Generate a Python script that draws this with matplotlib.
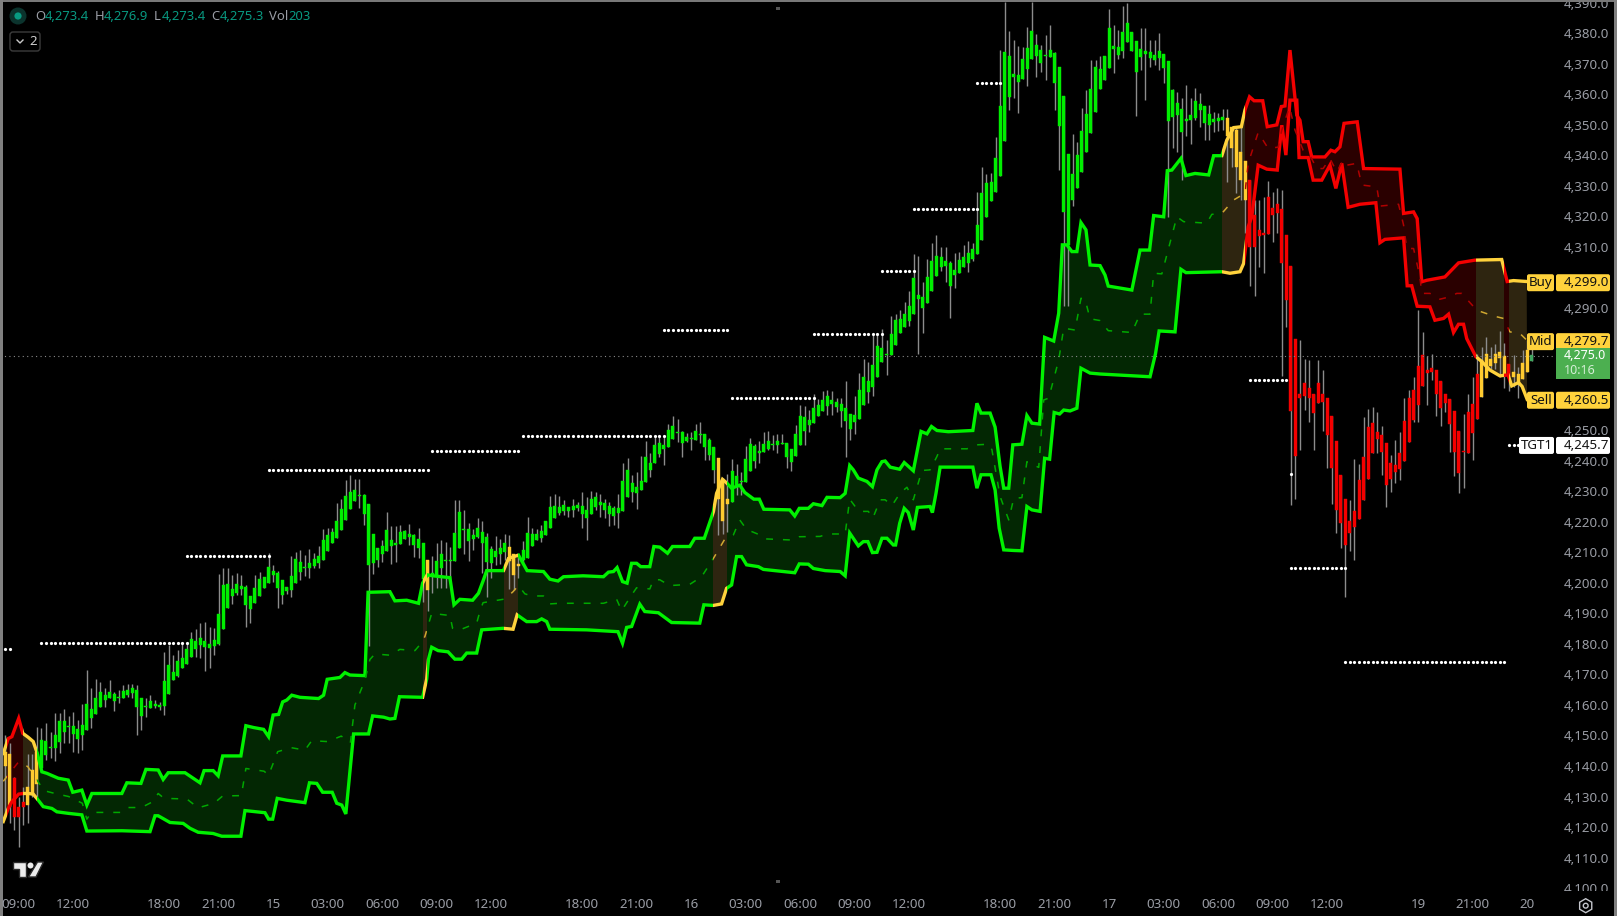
import numpy as np
import matplotlib
matplotlib.use('Agg')
import matplotlib.pyplot as plt
from matplotlib.patches import Rectangle, FancyBboxPatch, Circle, Polygon, RegularPolygon
from matplotlib.transforms import Affine2D

plt.rcParams['font.family'] = ['Noto Sans', 'DejaVu Sans']

BASE = 4000
first_bar = -3

# candles, one value per 15 minute bar, price minus BASE
bar_high = [150.2,147.4,136.5,130,133.2,144,144,152.9,152.3,154.2,
151.2,157.3,157.5,158.6,156.4,157.8,155.1,160.3,171.4,165.4,
168.5,167.6,165.4,168.2,164.4,164.9,166.5,166.9,166.8,166.5,
162.3,162.2,163.3,161.6,161,177.5,179.6,176.4,178,180.2,
180.7,184,184.8,187,187.2,185.6,185.1,202.8,205,204.7,
202.6,203.3,202.6,199.3,195.7,202.6,203.7,202,209.7,205.8,
203.9,200.9,198.7,208.8,210.2,210.8,209.1,211.1,209.7,211.9,
217.7,217.9,217.9,226,227.4,233.7,235.3,234,234,229.1,
225.8,216,211.4,214,223.2,218.6,218.6,219,217.3,219.3,
216,218,213,207.5,208.8,213,214,213.4,211.8,227.1,
227.1,223.9,219.6,217.7,221.3,220.3,216.3,212.1,215.4,214.4,
216,215.7,209.5,208.8,213.7,221.6,218,217.7,219,220.3,
228.5,229.1,228.5,227.2,225,227.5,226.6,229.9,228.2,230.1,
229.7,229.1,227.5,226.5,225.2,229.1,239.2,240.9,235.3,236.3,
241.6,246.5,242.4,247.9,248.4,248.4,252,254.7,253.7,249.7,
249,249.4,252,252.7,248.8,247.5,244.6,240.9,234.4,235.7,
240.5,238.9,236.3,244.8,247.5,245.5,246.5,249.4,249.7,248.4,
248.8,248.8,245.8,243.9,251.7,258.3,257.9,256.6,261.8,260.2,
262.9,263.3,262.9,260.4,260.4,266,255.3,261.2,268.8,273.2,
272.3,281.1,281.7,283.1,279.5,287.4,288.2,289.3,291.9,295.5,
307.7,307,298.5,306,311.3,313.9,310,310,305.4,308,
308.3,310.7,311.9,311.3,328,336.3,333.9,334.1,346.1,374.5,
390.4,380.7,377.8,375.8,375.6,381.9,390.4,379.8,376.2,379.4,
382.7,374,369,359.5,340.5,346.9,344.5,355.4,361.4,371.2,
371.2,372.6,372.6,388,382.7,381.1,388.9,389.9,380.4,377.5,
381.6,381.6,377.8,377.8,380,373.2,370.8,361.6,360.9,358.7,
363.1,358.7,362,360.3,356.2,356.5,354.3,353.8,355.1,355.1,
349.4,349.4,349.4,338.2,331.9,325.4,325.4,326.5,331.6,328.1,
329.2,328.6,313.9,303.7,280,279.5,273.2,273,262,273,
269.7,260.7,254.6,246.4,235.3,227.6,227.1,240.4,238.9,254.4,
257.1,257.7,256,251.3,245.7,242,246.7,249.5,260.4,263.3,
267.5,289.3,282.2,274.3,275.1,269.7,266.1,261.8,260.2,256.2,
249.7,255.3,261.8,267.5,275.1,277.3,280.4,277.3,278.2,282.4,
278.4,271.6,274.6,270.8,276.3,279.5,276.5]

bar_top = [144.7,144,136,126.7,128.3,133,138.7,144.5,148.5,148.3,
146.3,150.2,154.7,154.7,153.1,153.1,152.1,153.4,160.3,158.7,
162.4,164.2,163.3,164.2,163.6,162.5,164.5,164.9,165.6,164.9,
162.3,159.7,161.2,160.3,159.9,167.8,173.1,170.8,174.4,175.3,
178.3,181.6,181,181.8,180.8,180,181.3,189.8,199.3,199.6,
198,199.6,199.1,198.6,195.7,198.3,201.3,202,205.2,203.9,
203.2,200.9,198.6,202.3,207.8,206.8,205.2,206.5,207.8,208.8,
214,215.7,216.7,220.3,224.2,228.5,229.8,230.4,228.8,228.8,
225.8,216,211.4,212.1,217.3,214,213,216.7,217,216,
215.7,214.4,213,207.5,203.1,207.2,209.5,207.5,207.5,216.3,
223.2,217.7,217.7,215.7,218,216.7,215,211.1,210.4,211.4,
213,211.8,209.5,206.2,210.8,216.3,216,216,217,220.3,
224.9,225.2,224.9,225.4,225,225.2,225.4,225.2,223.9,227.5,
228.1,226.5,226.2,225.2,224.5,224.5,233.4,237,232.7,231.4,
233.4,241.2,239.2,245.2,245.8,245.2,250.1,251.4,249.4,249.4,
247.8,247.5,249.7,248.8,248.8,246.8,244.5,240.9,233.7,227.5,
236.6,235,233.4,240.6,245.5,244.8,243.2,245.5,246.5,245.5,
246.5,245.8,245.8,243.9,248.8,254.7,254.3,253.3,257.2,258.2,
259.9,261.2,259.9,259.2,258.5,257.4,255.3,254.9,263.1,267.4,
266.1,271.3,277.5,276.9,274.9,281.5,286,286.4,288,290.6,
299.8,294.2,293.6,300.1,305.4,307,306.7,305.4,304.7,302.4,
305.7,306.7,308,309.3,317.2,327.6,330.9,331.4,339,356.2,
374,372.6,366.7,366.3,371.6,375.3,380.7,376.2,374.5,372.9,
374.5,373.4,369,359.5,340.5,333.9,340.1,348,353.6,361.8,
369,368.3,372.6,381.7,375.8,375.5,380.4,383.4,380.4,377.5,
374.9,374.2,373.9,372.9,374.2,373.2,370.8,361.4,357.2,355.2,
351.9,353.2,357.8,357,356.2,353.6,351.9,352.2,352.6,352.2,
349.4,348.3,341.1,338.2,331.9,320.5,315.6,314.5,326.3,322.8,
324.1,322.6,313.9,303.7,280,262,265.6,263.7,262,265.3,
262,260.7,254.6,246.4,235.3,227.6,220.2,223.5,233.6,241.1,
250.9,252.2,249.5,248.4,245.7,239.1,238.6,242.4,253,260.4,
263.3,271,274.6,269.7,270.3,269.7,266.1,261.8,260.2,256.2,
249.7,243.1,255.9,258.5,268.4,272.9,275.1,273.2,274.8,275.5,
274.4,271.6,269.1,268.4,271.9,276.3,274.6]

bar_bottom = [140,126.7,123.2,123.2,126.5,127.2,130.5,134.1,139.5,143.6,
146,146,148,151.3,152.9,150.5,148.8,150.2,151.8,155.6,
157,159.4,161.6,162.4,161.2,162.3,162.3,163.2,163.9,159.4,
156.5,159.4,159.1,159.7,159.4,159.8,163.6,168.2,169.5,172,
173.4,175.8,178.2,179.6,178.9,178.7,179.3,180,184.9,191.8,
195.7,196.7,197.9,192.7,191.4,193.4,195.7,198.3,199.9,202.6,
198.3,196,197.2,197.7,200,203.6,204.9,204.9,205.5,206.5,
207.5,210.4,213,214.7,217.3,220.6,224.2,226.8,228.6,222.6,
205.9,206.5,207.5,209.5,210.4,212.1,212.4,212.7,214.4,215,
212.4,211.4,201.3,197.7,202.6,202.6,204.9,207.2,207.2,207.2,
211.4,217.4,213.7,214.4,215,213,206.8,206.5,208.5,209.5,
210.1,207.2,202.6,205.5,207.5,208.2,212.1,214,214.7,215.7,
218,221.3,222.9,223.5,223.5,223.9,224.5,222.6,221.3,222.6,
224.9,225.5,223.9,222.6,221.9,222.9,223.5,228.1,229.8,229.5,
230.4,233,237,239.2,242.2,243.9,244.5,247.1,249.1,245.8,
246.5,247.1,246.8,248.4,244.5,241.9,237,227.5,220.4,225.8,
226.5,232.1,233.1,233,236.6,239.9,242.5,242.9,243.8,245.2,
245.2,245.5,241.2,239.6,241.6,245.2,249.7,251.7,252.4,254.6,
256.4,257.9,258.5,257.6,256.2,253,250.4,252.6,253.6,258.2,
262.5,264.1,267.4,272.3,274.6,274.6,277.9,281.8,283.8,285.7,
288,292.9,290,291.6,295.6,300.5,303.4,303.7,297.2,300.8,
301.4,303.4,304.7,306,307.7,312.2,319.8,325.1,328.1,333.3,
344.7,359.2,365.6,363.9,365,368.3,371.6,372.6,370.3,372.7,
372.2,363.8,349.6,321.6,310.7,325.4,329.4,334.7,341.2,347.4,
354.3,361.6,364.7,368.7,374.9,372.9,374.2,377.1,374.2,367.4,
372.3,373.2,371.9,371.2,371.9,368.6,351.4,352.7,353.2,347.6,
351.4,351.6,352.2,354.9,350.7,350,351,351.4,351.6,346.4,
342.4,336.3,331.9,325.4,309.9,309.9,313.6,314,314.3,320.4,
321,304.8,292.8,256.4,241.6,260.7,261.2,260.7,255.5,258.8,
259.3,248.3,237.7,224,219.7,212.4,216.4,218.4,220.9,227.1,
234,242.6,247,242.9,232,234,236.4,237.2,239.9,246.2,
253.3,258.2,264.5,268.8,269.1,262,257.3,258.8,252,242.9,
236.1,242.9,242.6,249.1,253.6,260.9,267.2,271,272.1,273.5,
268,267.3,267.3,265.1,266.7,269.2,272.5]

bar_low = [124.5,121.2,119,113.6,120.7,121.2,130,130,138.7,142,
142.5,141.8,144.2,147.4,147.4,144.7,144.2,145.2,151.8,152.3,
157,159.4,159.2,162.4,158,160.5,162.3,162.7,162.2,150.2,
151.8,156.2,158.9,158.9,158.3,156.7,163.6,168.2,169.3,172,
173.4,175.8,175.8,175.3,171.2,172,176.4,179.6,184.9,191.8,
193,196,196,185.4,186.7,193.4,195.7,198.3,199.9,200.4,
191.9,193,196.3,195.2,200,201,202.3,201.5,204.8,204.8,
207.5,210.4,213,214.7,217.3,220.6,224.2,226.8,224.5,219,
179.3,202.9,205.3,206.8,210.4,206.2,206.8,212.7,214.4,212.4,
208.5,208.2,193.7,190.8,196.7,198.3,198.3,198.3,201,207.2,
211.4,209.5,207.2,210.8,214.7,203.1,195.4,201.6,205.9,206.2,
207.5,198,197.7,201.6,206.4,208.2,212.1,214,213.5,215.7,
218,221.3,222.2,222.2,221.7,221.7,223.5,218,214,222.6,
223.9,221.6,221.3,218.6,219,218,223.5,228.1,226.6,224.2,
230.4,233,234.8,239.2,241.3,238.6,244.5,247.1,246.1,241.2,
246.1,243.5,246.8,245.7,240.2,240.2,232.6,215.7,216,216.7,
226.5,228.8,228.8,233,236.6,237.5,239.3,242.9,243.5,243.5,
242.4,245.5,237.6,236.6,241.6,245.2,245.1,249.5,252.4,254.6,
256.4,255,255,256,251.1,241.3,246.7,248.7,253.6,258.2,
258.9,261.2,267.4,272.3,268,274.6,277.9,281.8,283.8,284.1,
288,274.9,281.8,291.6,295.6,300.5,302.1,298.5,286.7,296.5,
301.4,303.4,301.8,305.4,307.7,312.2,319.8,325.1,328.1,333.3,
344.7,354.9,358.7,354,365,362.7,371.6,365.8,367.4,364.7,
372.2,354.9,335.2,290.7,290.7,323.4,329.4,334.7,341.2,347.4,
354.3,361.6,364.7,368.7,367.1,371.5,371.8,377.1,374.2,352.9,
368,358.1,369,369.6,368,363.6,319.9,342.3,341.2,331.9,
346.2,343.6,351.6,349.4,345,345,347.8,348,348.3,331.4,
336.3,327.8,325.4,314.5,297.3,294,303.6,301.6,314.3,311.7,
314.5,267.7,283.9,225.5,227.6,243.5,256.6,252.8,243.5,258.8,
249.8,237.5,225.7,216.4,211.3,195.4,210.5,207.4,220.9,227.1,
234,242.6,242.4,235.3,224.7,229.8,232.6,233.6,239.9,246.2,
252.8,252.8,264.5,258.2,266.4,254.6,251.3,256,242.9,235,
229.3,230.9,242.6,240.2,253.6,260.9,267.2,269.9,270.2,267.5,
263.7,262.9,264.2,260.7,266.7,269.2,272.5]

# bars per colour run
run_state = ['y','r','y','g','y','g','y','g','y','g','y','r','y','r','y','live']
run_bars = [2,3,3,85,1,17,3,43,3,109,5,51,6,1,4,1]

# band nodes
upper_x = [-3.4,-2.3,-1.5,0,0.9,2.1,3.2,4.1,5.1,6.2,8.7,10.9,11.9,13.9,15,16.1,22.7,23.8,26.9,28,30.7,31.8,32.9,36.6,39.9,40.8,42.8,43.9,44.9,48.9,50,51.7,53.9,55,56,57.2,58.1,59,60.1,61.9,66,67.1,67.9,69.3,70.7,71.8,72.9,76.2,
76.9,81.7,82.8,85.4,88,88.9,89.9,91.2,94.9,95.8,97.1,99.9,101.2,102.3,103,106.7,107.8,110,111.9,115.5,116.9,118.7,119.9,124.2,128.7,129.8,130.9,131.7,132.9,133.9,134.9,136,136.9,138.9,139.8,141.1,142.8,143.9,147.7,148.8,150.9,152.9,153.6,154.9,155.9,156.9,158.7,159.8,161.8,163,164,169.7,170.8,171.8,
173.8,174.9,176.8,177.9,180.8,181.9,182.9,183.7,184.8,186.7,187.9,188.9,190,190.7,191.8,193.9,194.9,196.9,198.6,199.9,200.9,202.1,204.6,210,210.9,211.8,213.8,214.9,216,216.8,217.9,218.8,220.8,221.9,223,224.7,225.8,227.8,228.9,229.7,230.7,231.8,232.9,233.8,234.9,235.8,238,239.1,239.8,245,246.8,248.9,249.8,252,252.8,253.8,255.8,256.9,258.9,261.9,263,264.8,265.9,267.4,269.1,269.9,270.9,271.9,273.8,274.8,276.9,277.9,278.7,279.8,281.3,282,282.7,283.8,284.6,287.5,288.8,289.7,290.8,291.7,294.6,296,304,304.8,307,307.8,308.8,309.9,313.9,316.9,320.5,326.4,327.6,329,331.9]
upper_y = [144.1,149,149.6,155.6,150.7,149.4,148,144.1,138.1,137.6,136,135.4,131.4,132.1,127.2,131,131,134.5,134.3,138.9,138.7,135.6,137.8,137.8,134.5,138.5,138.5,136.8,143.3,143.3,153.2,152.6,152,149.6,156.7,156.9,161,161.6,163.2,162.5,162.1,163.2,168.4,168.7,169,170.6,169.8,169.6,
196.9,197.1,194.1,194.3,193.3,199.9,202.6,202.3,201.7,192.8,194.6,194.3,196.6,201,204,204,208,209.1,204,203.7,201.2,200.6,202,202.3,202,203.5,203.7,205,200.4,199.9,206.4,206.4,205.3,205.3,211.9,211.7,209.7,211.9,211.9,214.6,214.6,223.3,229.3,233.9,232.6,231,232,229.6,227.4,227.4,224.1,223.9,221.9,224.4,
224.4,225.9,225.3,228,227.9,229.3,238.4,237,234.3,233.2,231.5,237,239.7,239.9,237.9,237.2,239.4,236.7,249.6,248.8,251.2,249.9,249.5,249.9,258.8,255.6,255.6,251,238.1,231,231,245.2,245.4,254.8,252.3,252,280.4,279.2,288.3,310.7,310.7,308.5,308.5,318,315.6,304.1,303.9,300.8,297.2,295.9,309,309,320.3,319.9,335,335.2,339,333.4,334.1,333.6,339.9,339.9,345,349.1,349.4,354.9,359.2,357.9,357.9,349.4,350,356,356.2,374.5,353.2,351.5,344.5,344.5,339.5,339.5,341.7,341.2,342.8,350.5,351,335.7,335.5,321,321.5,319.3,298.6,299.1,300.2,304.8,305.7,305.9,298.7,299,298.7]

lower_x = [-3.4,-2.3,-1.5,0,1,2.1,3.2,4.1,5.4,7.3,8.4,10.9,13.9,15,22.7,28.9,30,30.7,33.3,36.2,37.7,39.5,42.8,44.7,48.9,49.8,54.2,55,55.9,56.9,59,63,64,65.6,66.9,69,70,71.1,72,73.7,77,77.9,80.3,81.7,82.8,83.8,88.9,89.8,90.2,90.9,92.3,94.5,96,97.5,98.6,100.8,101.9,106.6,108.8,109.7,111.8,114,115.1,116.2,116.9,125,131.9,132.9,133.8,134.9,136.7,137.8,140.8,143.7,149.9,150.8,152.9,154.7,155.8,156.9,158,159.1,160.2,162.8,163.9,170.8,171.8,
173.8,174.9,177.5,180.8,181.9,182.9,184.8,185.9,186.9,187.9,188.9,190,191.1,192.5,193,193.9,194.9,195.8,196.9,197.8,200.6,201.1,201.9,202.8,210,210.9,211.8,214,214.9,215.8,216.8,219,220.8,221.9,223,224.8,225.8,226.9,227.9,229.1,230,231.4,232.9,233.8,235.8,238,249,250.2,251,254.5,255.8,256.9,264.8,266.6,268.8,269.6,270.6,271.4,272.8,274.7,277,278,278.9,279.8,281.3,281.8,283.8,284.9,286.8,288.6,289.9,291.2,292.6,295.2,298.7,299.6,300.7,304.8,305.6,306.6,307.8,310.6,311.7,313.6,314.7,315.8,316.9,318,318.7,320.7,322,323.8,326,327.8,328.6,330.1,330.9,332]
lower_y = [121.8,126.1,128.3,130.8,131,131,130.8,129.2,126.7,126.1,125,124.5,124,118.7,118.8,118.5,123.7,123.7,121.5,121.2,119.6,118.3,117.9,117,117,125.4,124.7,122.6,122.6,129.4,128.8,128,134.5,134.3,131.4,131.4,127.8,127.2,124.3,150.5,150.5,156.4,156,155.4,155.6,162.7,162.5,168.5,175,178.9,177.8,177.4,175,175,177,177,184.6,185.1,184.8,189.5,187.3,187.3,188.2,187.3,184.8,184.6,184,180.2,185.4,185.7,193,190.6,190.2,187,186.8,192.8,192.6,193.1,198.2,199.3,208.6,208.6,205.9,205.3,204.4,203.3,206.2,
206.1,204.7,204,203.7,202.3,216.3,212.1,213.5,213.5,209.9,210,214.6,214.6,212.4,212.4,219.5,224.4,223,217.3,224.7,225,223,229.4,237.9,237.9,231,235.4,235.4,230.4,217.9,210.8,210.6,210.5,225,223.9,223.4,240.8,240.5,255.8,255.3,256.6,256.3,257.2,270.3,268.7,268.4,267.5,275,282.5,282.2,302.7,301.6,301.9,301.4,301.9,304.6,316.6,319.9,336.8,335.5,335.2,349.9,340.1,358.1,358.1,339.3,339.3,331.9,331.9,336.8,329.2,337.4,323,324,324.5,311.4,312.5,313,297.3,297.3,290.6,290.4,286,286.6,288,282,284.7,284.7,280,274.1,272.5,269.7,267.8,268.1,264.5,265.6,264.3,260.1]

mid_x = [-3.4,0,2,4,5.6,8,11,14,15,16,22.5,24,27,29.5,30.7,32,37,39.5,43,44.9,49,50,54,55,57,60,63,64.5,68,71,73,74,76.2,77.3,78.4,81.7,83.9,87.2,88.3,89.4,90.9,94.9,95.5,97.1,100.8,101.5,102.2,107,108.8,110,111.4,112.9,115.5,116.9,119.1,128.7,131.6,132.7,134.9,136,138.9,139.7,141.1,143.3,147.7,150.3,152.9,155.4,157.3,158.7,160.2,163.1,164.2,170.5,171.8,
176.4,177.9,181.9,182.9,184.1,185.2,187,188,189.6,190.7,192.2,194,195.5,196.9,198.8,200.6,202.1,202.8,208.7,210.9,213.5,214.2,216,217.9,219,220.8,221.9,224.5,225.6,226.7,228.9,230,232.5,233.8,234.7,235.8,238,239.8,245,246.8,249,249.8,251.6,252.7,254.9,256.4,261.5,262.6,264.8,267.4,269.9,270.6,272.8,275,277.2,278,279.7,280.9,282.7,284.2,285.7,287.1,288.6,290.1,291.5,292.3,294.5,295.6,298.9,299.6,303.7,304.8,305.5,307,308.4,308.8,310.6,312.8,315,316.5,317.6,320.9,324.6,326.8,328.2,330.4,331.9]
mid_y = [135,141.4,139.8,135.4,131.9,131,130,127.8,122.6,124.8,124.8,126.4,126.4,128.3,131,129.4,129.2,126.3,127.8,130.2,130.3,139.2,138.3,137,144.7,146,145.2,148.3,148,149.8,147.6,160,168.1,174.9,176.7,176.3,178.2,177.8,179.7,182.4,190,189.3,185.1,184.6,186.8,190.6,193.5,194.7,197.1,199.1,196.4,195.7,195.7,193.1,193.3,193.3,194.6,190.9,196,198.4,198,201,201,199.1,199.5,202,208,214.3,215.7,220.6,217.5,215.7,214.4,214,215.1,
215.2,216,216,227.4,225,223.4,223.4,221.2,227.2,227.2,225.3,229.4,231.3,227.2,236.8,237,241.4,243.9,243.9,245.2,245.4,243.6,228.3,220.6,227.7,227.9,239.7,237.8,259.9,260.5,273,283.4,282.8,293.2,292.9,286.5,285.9,282.6,282,288,288,301.4,301.2,307.4,319.9,318.3,317.8,320.7,321,325.4,327.6,337.4,347.5,342.3,342.7,348.3,355.9,348.3,341.7,340,335.7,335.7,339,334.6,338.5,336.8,337.4,330.3,329.7,323.4,324,317.2,309.5,309.5,300.2,294.8,294.8,292.9,293.7,294.8,294.8,289.3,287.4,286.6,282.2,281.7,279.5]

# band colour changes, bar positions
span_start = [-3.4,-2.5,0.9,4,88.9,89.9,106.8,109.8,152.9,155.8,264.8,269.9,320.7,326.8,327.9]
span_end = [-2.5,0.9,4,88.9,89.9,106.8,109.8,152.9,155.8,264.8,269.9,320.7,326.8,327.9,332]
span_state = ['y','r','y','g','y','g','y','g','y','g','y','r','y','r','y']

# dotted levels
level_start = [-3,5,37,55,91,111,142,157,175,190,197,211,271,280,280,292,328]
level_end = [-2,37,55,90,110,142,156,175,190,197,211,216,279,280,292,327,330]
level_price = [178.2,180.2,208.7,236.9,243.1,248,282.8,260.7,281.4,302,322.3,363.6,266.3,235.5,204.7,174,245]

y_ticks = list(range(4100, 4400, 10))
hidden_ticks = [4260, 4270, 4280, 4300]  # sit under the price tags
x_tick_bars = [0,12,32,44,56,68,80,92,104,124,136,148,160,172,184,196,216,228,240,252,264,276,288,308,320,332]
x_tick_labels = ['09:00','12:00','18:00','21:00','15','03:00','06:00','09:00','12:00','18:00','21:00','16','03:00','06:00','09:00','12:00','18:00','21:00','17','03:00','06:00','09:00','12:00','19','21:00','20']

body_color = {'g':'#00ee00','r':'#f50000','y':'#ffcb30','live':'#3fa860'}
line_color = {'g':'#00f200','r':'#f40000','y':'#ffd23c'}
fill_color = {'g':'#032703','r':'#2a0000','y':'#2e2510'}
mid_color = {'g':'#00a800','r':'#b00000','y':'#d0a830'}
GRAY = '#9a9da5'

W, H = 1617, 916
fig = plt.figure(figsize=(W/100, H/100), dpi=100, facecolor='black')
ax = fig.add_axes([0, 0, 1, 1], facecolor='black')
bar_px, x0_px = 4.5435, 18.7
unit_px, p0_px = 3.053, 247
ax.set_xlim(-x0_px/bar_px, (W-x0_px)/bar_px)
ax.set_ylim(4310-(H-p0_px)/unit_px, 4310+p0_px/unit_px)
for s in ax.spines.values():
    s.set_visible(False)

# pixels from the top left, for the chart furniture
px = Affine2D().scale(1, -1).translate(0, H)

bars = np.arange(first_bar, first_bar+len(bar_high))
states = np.repeat(run_state, run_bars)
colors = [body_color[s] for s in states]
high, top, bottom, low = [BASE+np.array(v) for v in (bar_high, bar_top, bar_bottom, bar_low)]

ux, uy = np.array(upper_x), BASE+np.array(upper_y)
lx, ly = np.array(lower_x), BASE+np.array(lower_y)
mx, my = np.array(mid_x), BASE+np.array(mid_y)
band = np.column_stack([np.r_[ux, lx[::-1]], np.r_[uy, ly[::-1]]])

# one copy of the band per colour, clipped to its bars
for a, b, st in zip(span_start, span_end, span_state):
    clip = Rectangle((a, 4000), b-a, 500, transform=ax.transData)
    poly = Polygon(band, closed=True, facecolor=fill_color[st], edgecolor='none', zorder=1)
    ax.add_patch(poly)
    poly.set_clip_path(clip)
    for xs, ys in ((ux, uy), (lx, ly)):
        ln, = ax.plot(xs, ys, color=line_color[st], lw=2.4, zorder=4, solid_joinstyle='miter')
        ln.set_clip_path(clip)
    ln, = ax.plot(mx, my, color=mid_color[st], lw=1.1, ls=(0, (4.5, 6.5)), zorder=4)
    ln.set_clip_path(clip)

ax.vlines(bars, low, high, color='#8c8c8c', lw=1, zorder=2)
ax.bar(bars, top-bottom, bottom=bottom, width=0.66, color=colors, edgecolor=colors, linewidth=0.3, zorder=3)

for a, b, p in zip(level_start, level_end, level_price):
    xs = np.arange(a, b+1)
    ax.plot(xs, np.full(len(xs), BASE+p), ls='none', marker='o', ms=2.3, mew=0, color='white', zorder=5)

# last price line
ax.hlines(4274.3, ax.get_xlim()[0], 338, color='#8a8a8a', lw=0.8, ls=(0, (1, 3)), zorder=4)

# axes, labels sit inside the picture
ax.yaxis.tick_right()
ax.set_yticks(y_ticks)
ax.set_yticklabels(['' if t in hidden_ticks else f'{t:,.1f}' for t in y_ticks])
ax.tick_params(axis='y', length=0, pad=-38.2, labelcolor=GRAY, labelsize=9.6)
ax.set_xticks(x_tick_bars)
ax.set_xticklabels(x_tick_labels)
ax.tick_params(axis='x', length=0, pad=-13, labelcolor=GRAY, labelsize=9.6)
ax.yaxis.set_zorder(5)
ax.xaxis.set_zorder(10)

# strip over the bottom, borders
ax.add_patch(Rectangle((0, 891), W, 25, transform=px, facecolor='black', edgecolor='none', zorder=6, clip_on=False))
ax.add_patch(Rectangle((0, 0), W, 2, transform=px, facecolor='#787878', edgecolor='none', zorder=7))
ax.add_patch(Rectangle((0, 0), 2.5, H, transform=px, facecolor='#808080', edgecolor='none', zorder=7))
ax.add_patch(Rectangle((1614, 0), 3, H, transform=px, facecolor='#808080', edgecolor='none', zorder=7))
for hy in (8, 881):
    ax.add_patch(Rectangle((776, hy-1), 4, 3, transform=px, facecolor='#555555', edgecolor='none', zorder=7))


def tag(price, label, value, bg, fg='#111111', label_x=1527):
    yc = H-ax.transData.transform((0, price))[1]
    ax.add_patch(FancyBboxPatch((label_x+1, yc-7.5), 1554-label_x-2, 15, boxstyle='round,pad=1,rounding_size=2',
                                transform=px, facecolor=bg, edgecolor='none', zorder=8))
    ax.add_patch(FancyBboxPatch((1557, yc-7.5), 52, 15, boxstyle='round,pad=1,rounding_size=2',
                                transform=px, facecolor=bg, edgecolor='none', zorder=8))
    ax.text((label_x+1555)/2, yc, label, transform=px, color=fg, fontsize=9.6, ha='center', va='center', zorder=9)
    ax.text(1564, yc, value, transform=px, color=fg, fontsize=9.6, ha='left', va='center', zorder=9)


tag(4298.3, 'Buy', '4,299.0', '#ffd23c')
tag(4279.0, 'Mid', '4,279.7', '#ffd23c')
tag(4259.8, 'Sell', '4,260.5', '#ffd23c')
tag(4245.0, 'TGT1', '4,245.7', 'white', label_x=1519)

# countdown box
ax.add_patch(Rectangle((1556, 348), 54, 31, transform=px, facecolor='#4caf50', edgecolor='none', zorder=8))
ax.text(1564, 355.5, '4,275.0', transform=px, color='white', fontsize=9, fontweight='bold', va='center', zorder=9)
ax.text(1564, 370.5, '10:16', transform=px, color='#d5eed6', fontsize=9, va='center', zorder=9)

# header
ax.add_patch(Circle((18, 16), 8.5, transform=px, facecolor='#0b332d', edgecolor='none', zorder=8))
ax.add_patch(Circle((18, 16), 3.6, transform=px, facecolor='#089981', edgecolor='none', zorder=9))
header = [(35, 'O', GRAY), (45, '4,273.4', '#089981'), (95, 'H', GRAY), (104, '4,276.9', '#089981'),
          (154, 'L', GRAY), (162, '4,273.4', '#089981'), (211, 'C', GRAY), (220, '4,275.3', '#089981'),
          (269, 'Vol', GRAY), (288, '203', '#089981')]
for hx, txt, col in header:
    ax.text(hx, 16.5, txt, transform=px, color=col, fontsize=9.4, va='center', zorder=9)
ax.add_patch(FancyBboxPatch((10, 32), 30, 19, boxstyle='round,pad=0,rounding_size=3', transform=px,
                            facecolor='black', edgecolor='#3c3c3c', lw=1, zorder=8))
ax.plot([17, 20, 23], [40, 43, 40], transform=px, color='#c8c8c8', lw=1, zorder=9)
ax.text(29, 41.5, '2', transform=px, color='#d0d0d0', fontsize=9.6, va='center', zorder=9)

# tradingview mark
logo = '#ececec'
ax.add_patch(Polygon([(13, 862), (26, 862), (26, 877), (18.5, 877), (18.5, 868.5), (13, 868.5)], transform=px,
                     facecolor=logo, edgecolor='#2a2a2a', lw=1, zorder=8))
ax.add_patch(Circle((30.5, 865.5), 3, transform=px, facecolor=logo, edgecolor='none', zorder=8))
ax.add_patch(Polygon([(37.5, 862), (43.5, 862), (36, 877), (28.5, 877)], transform=px,
                     facecolor=logo, edgecolor='#2a2a2a', lw=1, zorder=8))

# settings hexagon
ax.add_patch(RegularPolygon((1585.7, 905.7), 6, radius=7, transform=px, facecolor='none',
                            edgecolor='#c4c6cc', lw=1, zorder=11, clip_on=False))
ax.add_patch(Circle((1585.7, 905.7), 2.4, transform=px, facecolor='none', edgecolor='#c4c6cc', lw=1, zorder=11))

fig.savefig('out.png', dpi=100, facecolor='black')
